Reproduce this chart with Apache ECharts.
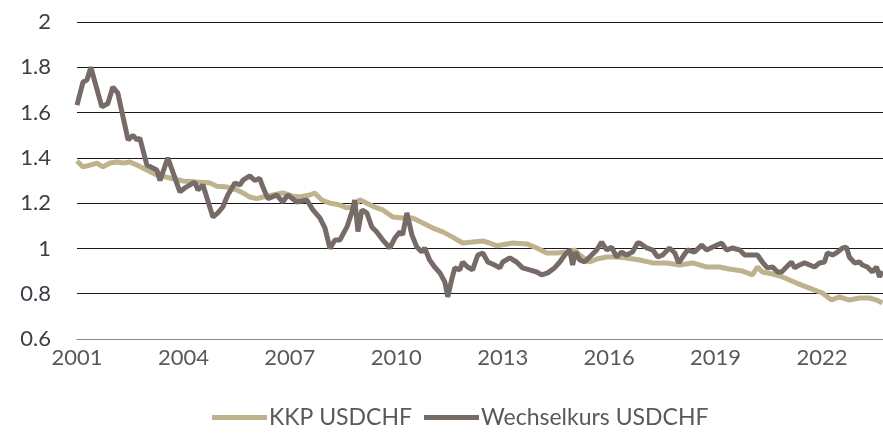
<!DOCTYPE html>
<html>
<head>
<meta charset="utf-8">
<script src="https://cdn.jsdelivr.net/npm/echarts@6/dist/echarts.min.js"></script>
<style>
  html, body { margin: 0; padding: 0; background: #fff; }
  #chart { width: 883px; height: 441px; }
</style>
</head>
<body>
<div id="chart"></div>
<script>
  // Jahre (dezimal) und Werte
  const kkpYears = [2001.00, 2001.17, 2001.37, 2001.56, 2001.73, 2001.93, 2002.13, 2002.30, 2002.49, 2002.69,
    2002.97, 2003.25, 2003.62, 2003.99, 2004.38, 2004.75, 2004.94, 2005.23, 2005.51, 2005.68,
    2005.87, 2006.07, 2006.24, 2006.52, 2006.80, 2007.06, 2007.28, 2007.56, 2007.70, 2007.90,
    2008.13, 2008.41, 2008.61, 2008.77, 2008.97, 2009.17, 2009.45, 2009.62, 2009.90, 2010.18,
    2010.46, 2010.75, 2011.03, 2011.31, 2011.59, 2011.87, 2012.15, 2012.44, 2012.63, 2012.83,
    2013.28, 2013.68, 2013.96, 2014.24, 2014.52, 2014.80, 2015.03, 2015.17, 2015.45, 2015.65,
    2015.93, 2016.21, 2016.49, 2016.86, 2017.23, 2017.62, 2017.99, 2018.35, 2018.75, 2019.11,
    2019.39, 2019.76, 2020.04, 2020.18, 2020.32, 2020.61, 2020.89, 2021.28, 2021.65, 2022.01,
    2022.27, 2022.49, 2022.77, 2023.06, 2023.34, 2023.54, 2023.70]
  const kkpValues = [1.386, 1.36, 1.368, 1.377, 1.36, 1.377, 1.382, 1.377, 1.382, 1.368,
    1.346, 1.324, 1.311, 1.298, 1.293, 1.289, 1.275, 1.271, 1.258, 1.245,
    1.227, 1.22, 1.227, 1.236, 1.245, 1.232, 1.227, 1.236, 1.245, 1.214,
    1.2, 1.192, 1.179, 1.183, 1.215, 1.2, 1.179, 1.17, 1.139, 1.134,
    1.134, 1.112, 1.09, 1.073, 1.05, 1.024, 1.028, 1.033, 1.024, 1.012,
    1.024, 1.02, 1.002, 0.98, 0.98, 0.984, 0.993, 0.971, 0.94, 0.953,
    0.962, 0.962, 0.958, 0.949, 0.936, 0.936, 0.927, 0.936, 0.918, 0.918,
    0.909, 0.9, 0.883, 0.918, 0.896, 0.887, 0.874, 0.847, 0.825, 0.803,
    0.772, 0.786, 0.772, 0.781, 0.781, 0.772, 0.759]

  const fxYears = [2001.00, 2001.17, 2001.28, 2001.39, 2001.70, 2001.87, 2002.01, 2002.15, 2002.44, 2002.58,
    2002.69, 2002.77, 2002.97, 2003.25, 2003.34, 2003.56, 2003.70, 2003.90, 2004.04, 2004.32,
    2004.41, 2004.55, 2004.83, 2004.97, 2005.11, 2005.25, 2005.45, 2005.59, 2005.68, 2005.87,
    2006.01, 2006.15, 2006.24, 2006.38, 2006.63, 2006.80, 2006.94, 2007.20, 2007.48, 2007.65,
    2007.85, 2007.99, 2008.13, 2008.27, 2008.41, 2008.61, 2008.75, 2008.83, 2008.92, 2009.03,
    2009.17, 2009.31, 2009.45, 2009.62, 2009.82, 2009.96, 2010.10, 2010.18, 2010.30, 2010.44,
    2010.58, 2010.72, 2010.80, 2010.94, 2011.08, 2011.23, 2011.37, 2011.45, 2011.56, 2011.65,
    2011.79, 2011.87, 2012.01, 2012.15, 2012.30, 2012.44, 2012.58, 2012.77, 2012.92, 2013.00,
    2013.20, 2013.39, 2013.56, 2013.76, 2013.96, 2014.10, 2014.27, 2014.46, 2014.61, 2014.75,
    2014.89, 2014.97, 2015.06, 2015.17, 2015.31, 2015.45, 2015.65, 2015.79, 2015.93, 2016.07,
    2016.21, 2016.35, 2016.49, 2016.66, 2016.80, 2016.86, 2017.06, 2017.23, 2017.37, 2017.51,
    2017.70, 2017.85, 2017.96, 2018.07, 2018.21, 2018.41, 2018.61, 2018.75, 2018.92, 2019.17,
    2019.31, 2019.48, 2019.68, 2019.82, 2020.01, 2020.18, 2020.32, 2020.46, 2020.61, 2020.75,
    2020.86, 2021.00, 2021.14, 2021.23, 2021.37, 2021.51, 2021.65, 2021.79, 2021.93, 2022.07,
    2022.15, 2022.30, 2022.44, 2022.58, 2022.69, 2022.77, 2022.92, 2023.06, 2023.14, 2023.28,
    2023.42, 2023.54, 2023.62, 2023.70]
  const fxValues = [1.633, 1.735, 1.744, 1.80, 1.625, 1.64, 1.713, 1.686, 1.479, 1.50,
    1.479, 1.488, 1.368, 1.346, 1.30, 1.40, 1.338, 1.25, 1.267, 1.293,
    1.258, 1.28, 1.139, 1.157, 1.183, 1.236, 1.289, 1.28, 1.302, 1.32,
    1.30, 1.31, 1.271, 1.22, 1.236, 1.205, 1.236, 1.205, 1.214, 1.17,
    1.134, 1.09, 1.0, 1.037, 1.037, 1.095, 1.161, 1.214, 1.075, 1.17,
    1.157, 1.095, 1.073, 1.037, 1.002, 1.046, 1.073, 1.06, 1.157, 1.06,
    1.006, 0.984, 1.002, 0.949, 0.918, 0.892, 0.852, 0.786, 0.861, 0.914,
    0.905, 0.94, 0.918, 0.905, 0.971, 0.98, 0.94, 0.927, 0.914, 0.94,
    0.958, 0.94, 0.914, 0.905, 0.896, 0.883, 0.892, 0.914, 0.94, 0.971,
    0.993, 0.927, 0.984, 0.949, 0.94, 0.962, 0.993, 1.028, 0.993, 1.006,
    0.962, 0.984, 0.971, 0.984, 1.024, 1.024, 1.002, 0.993, 0.962, 0.971,
    1.002, 0.98, 0.936, 0.962, 0.993, 0.984, 1.015, 0.993, 1.006, 1.024,
    0.993, 1.002, 0.993, 0.971, 0.971, 0.971, 0.94, 0.914, 0.918, 0.896,
    0.896, 0.918, 0.94, 0.914, 0.927, 0.936, 0.927, 0.918, 0.936, 0.94,
    0.98, 0.971, 0.984, 1.002, 1.006, 0.962, 0.936, 0.94, 0.927, 0.918,
    0.896, 0.918, 0.874, 0.90]

  const zip = (xs, ys) => xs.map((x, i) => [x, ys[i]])

  const myChart = echarts.init(document.getElementById('chart'))
  const textFont = 'Lato'

  let option = {
    animation: false,
    grid: {
      left: 77,
      right: 0,
      top: 22,
      bottom: 102
    },
    legend: {
      left: 207,
      top: 401,
      icon: 'rect',
      itemWidth: 55,
      itemHeight: 5,
      itemGap: 12,
      textStyle: {
        color: '#595959',
        fontSize: 23,
        fontFamily: textFont,
        padding: [0, 0, 0, -3]
      },
      data: ['KKP USDCHF', 'Wechselkurs USDCHF']
    },
    xAxis: {
      type: 'value',
      min: 2001,
      max: 2023.72,
      interval: 3,
      splitLine: { show: false },
      axisTick: { show: false },
      axisLine: {
        show: true,
        lineStyle: { color: '#868686', width: 1 }
      },
      axisLabel: {
        showMaxLabel: false,
        margin: 8,
        color: '#595959',
        fontSize: 22,
        fontFamily: textFont,
        formatter: v => String(v)
      }
    },
    yAxis: {
      type: 'value',
      min: 0.6,
      max: 2,
      interval: 0.2,
      axisLine: { show: false },
      axisTick: { show: false },
      splitLine: {
        show: true,
        lineStyle: { color: '#1a1a1a', width: 1 }
      },
      axisLabel: {
        margin: 26,
        color: '#3b4048',
        fontSize: 22,
        fontFamily: textFont,
        formatter: v => String(Math.round(v * 10) / 10)
      }
    },
    series: [{
      name: 'KKP USDCHF',
      type: 'line',
      showSymbol: false,
      lineStyle: { color: '#bfb38e', width: 5 },
      itemStyle: { color: '#bfb38e' },
      data: zip(kkpYears, kkpValues)
    }, {
      name: 'Wechselkurs USDCHF',
      type: 'line',
      showSymbol: false,
      lineStyle: { color: '#776b67', width: 5 },
      itemStyle: { color: '#776b67' },
      data: zip(fxYears, fxValues)
    }]
  }

  myChart.setOption(option)
</script>
</body>
</html>
